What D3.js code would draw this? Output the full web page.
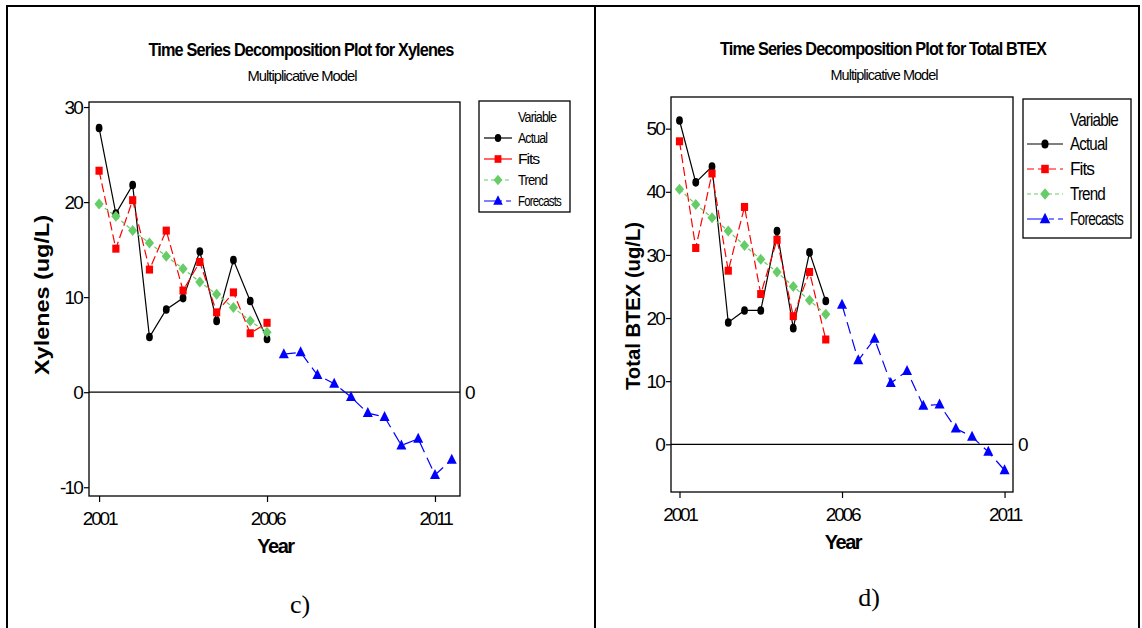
<!DOCTYPE html>
<html>
<head>
<meta charset="utf-8">
<script src="https://cdn.jsdelivr.net/npm/d3@7"></script>
<style>
  body { margin: 0; background: #fff; }
  svg text { font-family: "Liberation Sans Narrow", "Liberation Sans", Arial, sans-serif; fill: #000; }
</style>
</head>
<body>
<script>
// values (half-year steps, index 0 = 2001)
var yearTicks = [0, 10, 20];
var yearLabels = ['2001', '2006', '2011'];
var seriesNames = ['Actual', 'Fits', 'Trend', 'Forecasts'];

// c) Xylenes
var xylActual   = [27.8, 18.8, 21.8, 5.8, 8.7, 9.9, 14.8, 7.5, 13.9, 9.6, 5.6];
var xylFits     = [23.3, 15.1, 20.2, 12.9, 17.0, 10.7, 13.7, 8.4, 10.5, 6.2, 7.3];
var xylTrend    = [19.8, 18.5, 17.0, 15.7, 14.3, 13.0, 11.6, 10.3, 8.9, 7.5, 6.3];
var xylForecast = [4.0, 4.2, 1.8, 0.9, -0.5, -2.2, -2.6, -5.6, -4.9, -8.7, -7.1];
var xylTicks    = [-10, 0, 10, 20, 30];

// d) Total BTEX
var btexActual   = [51.3, 41.5, 44.0, 19.3, 21.2, 21.2, 33.8, 18.4, 30.4, 22.7];
var btexFits     = [48.0, 31.1, 42.9, 27.5, 37.6, 23.8, 32.4, 20.3, 27.3, 16.6];
var btexTrend    = [40.4, 38.0, 35.9, 33.8, 31.5, 29.3, 27.3, 25.0, 22.8, 20.6];
var btexForecast = [22.1, 13.3, 16.7, 9.7, 11.6, 6.1, 6.3, 2.5, 1.2, -1.2, -4.1];
var btexTicks    = [0, 10, 20, 30, 40, 50];

var W = 1142, H = 628;
var svg = d3.select('body').append('svg').attr('width', W).attr('height', H);

// outer table frame
svg.append('path')
  .attr('d', 'M7,640 V6 H1139 V640 M595,6 V640')
  .attr('fill', 'none').attr('stroke', '#000').attr('stroke-width', 2);

var styles = {
  Actual:    { color: '#000000', dash: null,   shape: 'circle' },
  Fits:      { color: '#ff0000', dash: '9,4',  shape: 'square' },
  Trend:     { color: '#66cc66', dash: '4,3',  shape: 'diamond' },
  Forecasts: { color: '#0000ff', dash: '12,6', shape: 'triangle' }
};

function marker(g, shape, color, x, y, k) {
  k = k || 1;
  if (shape === 'circle') {
    g.append('ellipse').attr('cx', x).attr('cy', y).attr('rx', 3.4 * k).attr('ry', 4.3 * k).attr('fill', color);
  } else if (shape === 'square') {
    g.append('rect').attr('x', x - 3.6 * k).attr('y', y - 4 * k).attr('width', 7.2 * k).attr('height', 8 * k).attr('fill', color);
  } else if (shape === 'diamond') {
    g.append('path').attr('d', 'M' + x + ',' + (y - 5.5 * k) + 'L' + (x + 4.6 * k) + ',' + y + 'L' + x + ',' + (y + 5.5 * k) + 'L' + (x - 4.6 * k) + ',' + y + 'Z').attr('fill', color);
  } else {
    g.append('path').attr('d', 'M' + x + ',' + (y - 6 * k) + 'L' + (x + 5 * k) + ',' + (y + 4 * k) + 'L' + (x - 5 * k) + ',' + (y + 4 * k) + 'Z').attr('fill', color);
  }
}

function label(g, x, y, str, size, opts) {
  opts = opts || {};
  var t = g.append('text').attr('x', x).attr('y', y).text(str)
    .attr('font-size', size)
    .attr('text-anchor', opts.anchor || 'start');
  if (opts.bold) t.attr('font-weight', 'bold');
  if (opts.family) t.style('font-family', opts.family);
  if (opts.len) t.attr('textLength', opts.len).attr('lengthAdjust', 'spacingAndGlyphs');
  if (opts.rotate) t.attr('transform', 'rotate(-90,' + x + ',' + y + ')');
  if (opts.spacing) t.attr('letter-spacing', opts.spacing);
  return t;
}

function drawChart(c) {
  var g = svg.append('g');
  var x = d3.scaleLinear().domain(c.xDomain).range([c.left, c.right]);
  var y = d3.scaleLinear().domain(c.yDomain).range([c.bottom, c.top]);

  // titles
  label(g, c.titleX, c.titleY, c.title, 19, { anchor: 'middle', bold: true, len: c.titleLen, spacing: -1 });
  label(g, c.titleX + 1, c.titleY + 25, 'Multiplicative Model', 15, { anchor: 'middle', len: c.subLen, spacing: -1 });

  // zero reference line
  g.append('line').attr('x1', c.left).attr('x2', c.right)
    .attr('y1', y(0)).attr('y2', y(0)).attr('stroke', '#000').attr('stroke-width', 1.2);
  label(g, c.right + 5, y(0) + 7, '0', 19, { family: '"Liberation Sans", Arial, sans-serif' });

  // axes
  var ya = g.append('g').attr('transform', 'translate(' + c.left + ',0)')
    .call(d3.axisLeft(y).tickValues(c.yTicks).tickSize(5).tickPadding(2)
      .tickFormat(function (d) { return String(d); }));
  ya.select('.domain').remove();
  ya.selectAll('text').attr('font-size', 19).attr('letter-spacing', -1.8)
    .style('font-family', '"Liberation Sans Narrow", Arial, sans-serif');
  ya.selectAll('line').attr('stroke-width', 1.2);

  var xa = g.append('g').attr('transform', 'translate(0,' + c.bottom + ')')
    .call(d3.axisBottom(x).tickValues(yearTicks).tickFormat(function (d, i) { return yearLabels[i]; })
      .tickSize(6).tickPadding(10));
  xa.select('.domain').remove();
  xa.selectAll('text').attr('font-size', 19).attr('letter-spacing', -2.2)
    .style('font-family', '"Liberation Sans Narrow", Arial, sans-serif');
  xa.selectAll('line').attr('stroke-width', 1.2);

  // plot frame
  g.append('rect').attr('x', c.left).attr('y', c.top)
    .attr('width', c.right - c.left).attr('height', c.bottom - c.top)
    .attr('fill', 'none').attr('stroke', '#000').attr('stroke-width', 1.3);

  // axis titles
  label(g, (c.left + c.right) / 2 + c.yearDx, c.bottom + 57, 'Year', 20, { anchor: 'middle', bold: true, spacing: -1.5 });
  label(g, c.ylabX, c.ylabY, c.ylab, 20, { anchor: 'middle', bold: true, rotate: true, len: c.ylabLen,
    family: '"Liberation Sans", Arial, sans-serif' });

  // series
  var line = d3.line().x(function (d) { return x(d.i); }).y(function (d) { return y(d.v); });
  c.series.forEach(function (s) {
    var st = styles[s.name];
    var pts = s.values.map(function (v, k) { return { i: s.start + k, v: v }; });
    g.append('path').datum(pts).attr('d', line)
      .attr('fill', 'none').attr('stroke', st.color).attr('stroke-width', 1.2)
      .attr('stroke-dasharray', st.dash);
  });
  c.series.forEach(function (s) {
    var st = styles[s.name];
    s.values.forEach(function (v, k) { marker(g, st.shape, st.color, x(s.start + k), y(v)); });
  });

  // legend
  var L = c.legend;
  g.append('rect').attr('x', L.x).attr('y', L.y).attr('width', L.w).attr('height', L.h)
    .attr('fill', '#fff').attr('stroke', '#000').attr('stroke-width', 1.3);
  label(g, L.textX, L.y + L.first - L.step + 5 + L.varDy, 'Variable', L.font, { len: L.varLen, spacing: -1 });
  seriesNames.forEach(function (name, k) {
    var st = styles[name];
    var yy = L.y + L.first + k * L.step;
    g.append('line').attr('x1', L.lineX).attr('x2', L.lineX + L.lineW).attr('y1', yy).attr('y2', yy)
      .attr('stroke', st.color).attr('stroke-width', 1.2)
      .attr('stroke-dasharray', name === 'Actual' ? null : (name === 'Forecasts' ? '18,4,5,4' : L.dash[k]));
    marker(g, st.shape, st.color, L.lineX + L.lineW / 2, yy, L.mk);
    label(g, L.textX, yy + L.font * 0.36, name, L.font, { len: L.lens[k], spacing: -1 });
  });

  label(g, c.capX, c.capY, c.caption, 26, { anchor: 'middle', family: '"Liberation Serif", "Times New Roman", serif' });
}

drawChart({
  title: 'Time Series Decomposition Plot for Xylenes', titleX: 301, titleY: 56, titleLen: 305, subLen: 109,
  left: 89, right: 460, top: 102, bottom: 496,
  xDomain: [-0.6, 21.49], yDomain: [-10.92, 30.53], yTicks: xylTicks,
  ylab: 'Xylenes (ug/L)', ylabX: 49, ylabY: 295, ylabLen: 160, yearDx: 1,
  series: [
    { name: 'Actual', values: xylActual, start: 0 },
    { name: 'Fits', values: xylFits, start: 0 },
    { name: 'Trend', values: xylTrend, start: 0 },
    { name: 'Forecasts', values: xylForecast, start: 11 }
  ],
  legend: { x: 479, y: 101, w: 91, h: 111, first: 37, step: 21, font: 14, textX: 518, lineX: 484, lineW: 28,
    mk: 0.95, varDy: 0, varLen: 38, lens: [29, 21, 29, 43], dash: [null, null, '4,3', null] },
  caption: 'c)', capX: 300, capY: 613
});

drawChart({
  title: 'Time Series Decomposition Plot for Total BTEX', titleX: 883, titleY: 55, titleLen: 326, subLen: 107,
  left: 671, right: 1013, top: 97, bottom: 492,
  xDomain: [-0.523, 20.52], yDomain: [-7.56, 55.02], yTicks: btexTicks,
  ylab: 'Total BTEX (ug/L)', ylabX: 640, ylabY: 306, ylabLen: 168, yearDx: 1,
  series: [
    { name: 'Actual', values: btexActual, start: 0 },
    { name: 'Fits', values: btexFits, start: 0 },
    { name: 'Trend', values: btexTrend, start: 0 },
    { name: 'Forecasts', values: btexForecast, start: 10 }
  ],
  legend: { x: 1023, y: 99, w: 108, h: 139, first: 45, step: 25, font: 18, textX: 1070, lineX: 1027, lineW: 36,
    mk: 1.05, varDy: 2, varLen: 48, lens: [37, 24, 35, 53], dash: [null, '7,4', '4,3', null] },
  caption: 'd)', capX: 869, capY: 606
});
</script>
</body>
</html>
